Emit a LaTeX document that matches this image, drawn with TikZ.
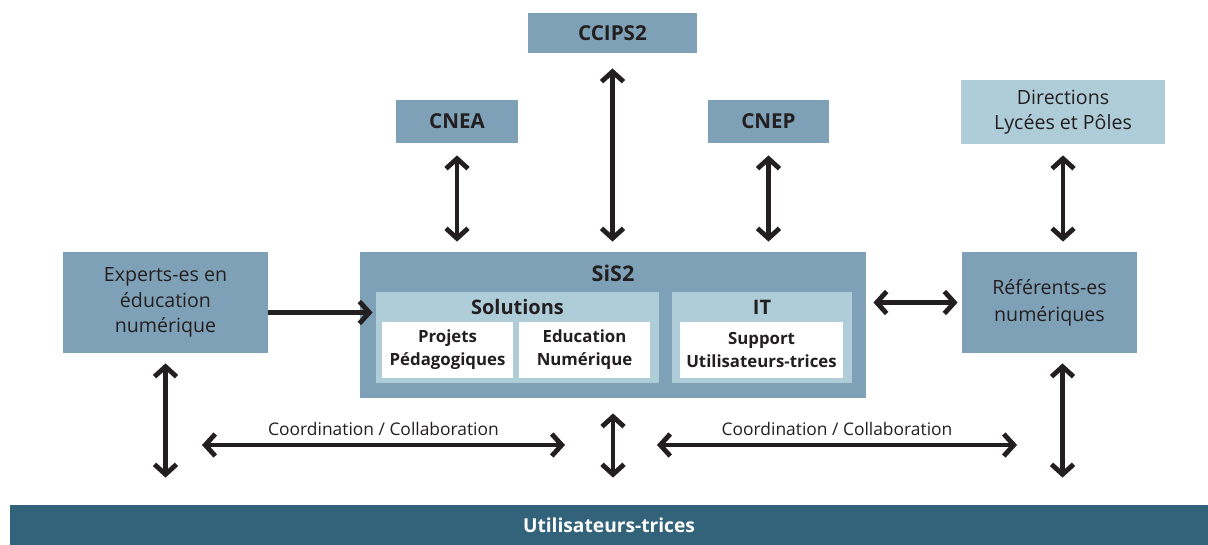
\documentclass[tikz,border=0pt]{standalone}
\usepackage{fontspec}
\setmainfont{Open Sans}
\usetikzlibrary{positioning,arrows.meta}
\definecolor{boxblue}{HTML}{7FA1B8}
\definecolor{lightblue}{HTML}{AECDD8}
\definecolor{darkblue}{HTML}{33637A}
\definecolor{arrowblack}{HTML}{231F20}
\begin{document}
\begin{tikzpicture}[x=0.5pt,y=-0.5pt,
    box/.style={fill=boxblue, inner sep=0pt, align=center, text=arrowblack,
        font=\fontsize{9.8}{12.8}\selectfont},
    boldbox/.style={box, font=\bfseries\fontsize{10.3}{12}\selectfont},
    lightbox/.style={box, fill=lightblue},
    whitebox/.style={box, fill=white, font=\bfseries\fontsize{8.4}{11.5}\selectfont},
    title/.style={inner sep=0pt, text=arrowblack, font=\bfseries\fontsize{10}{12}\selectfont},
    arr/.style={line width=2.4pt, draw=arrowblack, {Straight Barb[length=5pt,width=11pt]}-{Straight Barb[length=5pt,width=11pt]}},
    onearr/.style={line width=2.4pt, draw=arrowblack, -{Straight Barb[length=5pt,width=11pt]}},
    every edge/.append style={arr}]
  \useasboundingbox (0,0) rectangle (1208,545);

  % top row
  \node[boldbox, minimum width=84.5pt, minimum height=20pt] (CCIPS) at (612.5,33) {CCIPS2};
  \node[boldbox, minimum width=61pt, minimum height=21.5pt] (CNEA) at (457,121.5) {CNEA};
  \node[boldbox, minimum width=60.5pt, minimum height=21.5pt] (CNEP) at (768.5,121.5) {CNEP};
  \node[lightbox, minimum width=102pt, minimum height=32pt] (Directions) at (1063,112) {Directions\\Lycées et Pôles};

  % middle row
  \node[box, minimum width=102.5pt, minimum height=50.5pt] (Experts) at (165.5,302.5) {Experts-es en\\éducation\\numérique};
  \node[box, minimum width=253pt, minimum height=73pt] (SiS2) at (613,325) {};
  \node[title, font=\bfseries\fontsize{10.8}{12}\selectfont] (sistitle) at (613,273) {SiS2};
  \node[lightbox, minimum width=141.5pt, minimum height=45.5pt] (Solutions) at (517.5,337.5) {};
  \node[title] (soltitle) at (517.5,307) {Solutions};
  \node[lightbox, minimum width=90pt, minimum height=45.5pt] (IT) at (762,337.5) {};
  \node[title] (ittitle) at (762,307) {IT};
  \node[whitebox, minimum width=65.5pt, minimum height=28pt] (Projets) at (447.5,350) {Projets\\Pédagogiques};
  \node[whitebox, minimum width=65.5pt, minimum height=28pt] (Education) at (584.5,350) {Education\\Numérique};
  \node[whitebox, minimum width=81.5pt, minimum height=28pt] (Support) at (761.5,350) {Support\\Utilisateurs-trices};
  \node[box, minimum width=87.5pt, minimum height=50.5pt, font=\fontsize{9.8}{13.5}\selectfont] (Referents) at (1049.5,302.5) {Référents-es\\numériques};

  % bottom bar
  \node[box, fill=darkblue, text=white, minimum width=599pt, minimum height=20pt, font=\bfseries\fontsize{9.6}{11}\selectfont] (Users) at (609,525) {Utilisateurs-trices};

  \coordinate (coordLa) at (202,445);
  \coordinate (coordLb) at (565,445);
  \coordinate (coordRa) at (657,445);
  \coordinate (coordRb) at (1017,445);

  \path
    (CCIPS.south) edge [shorten <=7.5pt, shorten >=5pt] (CCIPS.south |- SiS2.north)
    (CNEA.south) edge [shorten <=6pt, shorten >=5pt] (CNEA.south |- SiS2.north)
    (CNEP.south) edge [shorten <=6pt, shorten >=5pt] (CNEP.south |- SiS2.north)
    (Directions.south) edge [shorten <=5.5pt, shorten >=5pt] (Directions.south |- Referents.north)
    (SiS2.east |- Referents.west) edge [shorten <=3.5pt, shorten >=2pt] (Referents.west)
    (Experts.south) edge [shorten <=5pt, shorten >=13.5pt] (Experts.south |- Users.north)
    (SiS2.south) edge [shorten <=7.5pt, shorten >=13.5pt] (SiS2.south |- Users.north)
    ([xshift=6.5pt]Referents.south) edge [shorten <=5pt, shorten >=13.5pt] ([xshift=6.5pt]Referents.south |- Users.north)
    (coordLa) edge node[above=3.5pt, inner sep=0pt, font=\fontsize{8.7}{10}\selectfont, text=arrowblack] {Coordination / Collaboration} (coordLb)
    (coordRa) edge node[above=3.5pt, inner sep=0pt, font=\fontsize{8.7}{10}\selectfont, text=arrowblack] {Coordination / Collaboration} (coordRb);
  \draw[onearr, shorten >=1.5pt] ([yshift=-5pt]Experts.east) -- ([yshift=-5pt]Experts.east -| Solutions.west);
\end{tikzpicture}
\end{document}
